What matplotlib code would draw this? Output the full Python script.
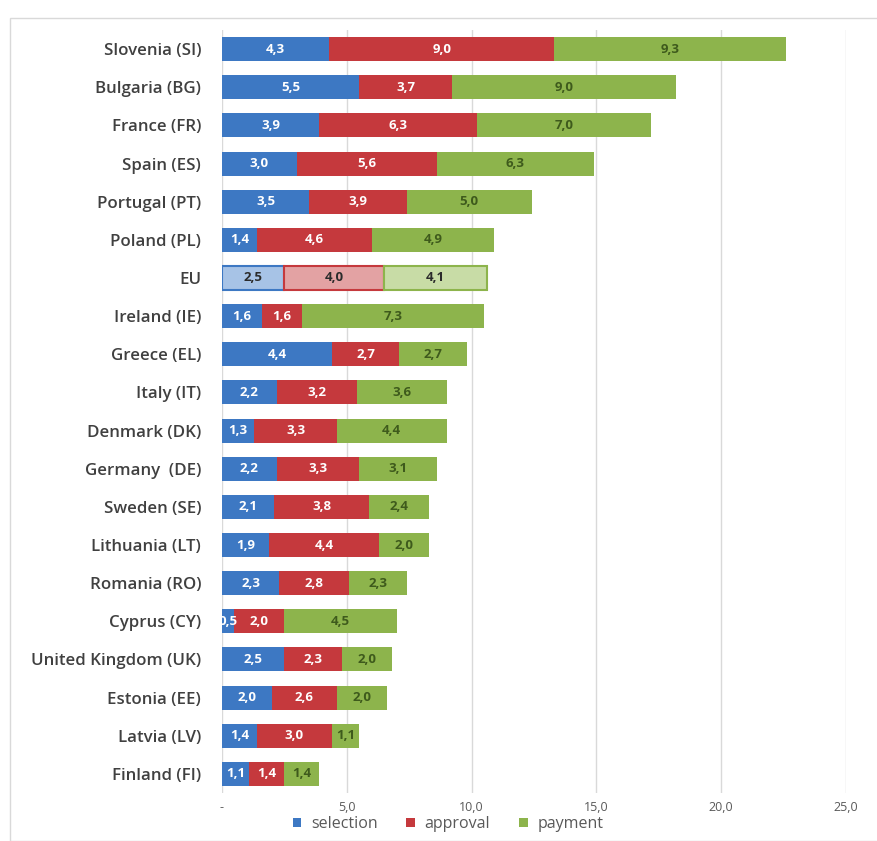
import matplotlib.pyplot as plt
from matplotlib.patches import Rectangle

countries = ['Slovenia (SI)', 'Bulgaria (BG)', 'France (FR)', 'Spain (ES)',
             'Portugal (PT)', 'Poland (PL)', 'EU', 'Ireland (IE)', 'Greece (EL)',
             'Italy (IT)', 'Denmark (DK)', 'Germany  (DE)', 'Sweden (SE)',
             'Lithuania (LT)', 'Romania (RO)', 'Cyprus (CY)',
             'United Kingdom (UK)', 'Estonia (EE)', 'Latvia (LV)', 'Finland (FI)']
selection = [4.3, 5.5, 3.9, 3.0, 3.5, 1.4, 2.5, 1.6, 4.4, 2.2,
             1.3, 2.2, 2.1, 1.9, 2.3, 0.5, 2.5, 2.0, 1.4, 1.1]
approval = [9.0, 3.7, 6.3, 5.6, 3.9, 4.6, 4.0, 1.6, 2.7, 3.2,
            3.3, 3.3, 3.8, 4.4, 2.8, 2.0, 2.3, 2.6, 3.0, 1.4]
payment = [9.3, 9.0, 7.0, 6.3, 5.0, 4.9, 4.1, 7.3, 2.7, 3.6,
           4.4, 3.1, 2.4, 2.0, 2.3, 4.5, 2.0, 2.0, 1.1, 1.4]
steps = ['selection', 'approval', 'payment']
xticks = [0, 5, 10, 15, 20, 25]

colors = ['#3d78c3', '#c5393d', '#8db44c']
eu_colors = ['#a7c3e6', '#e3a2a3', '#c8dca6']
text_colors = ['white', 'white', '#3e5a1c']

plt.rcParams['font.family'] = ['Open Sans', 'DejaVu Sans']

fig = plt.figure(figsize=(8.77, 8.41), dpi=100)
ax = fig.add_axes([0.2531, 0.0571, 0.7116, 0.9072])

# frame around the chart area
fig.patches.append(Rectangle((10 / 877, 0), 1, 1 - 18 / 841, transform=fig.transFigure,
                             fill=False, edgecolor='#d9d9d9', linewidth=1.0))

ypos = list(range(len(countries)))
left = [0.0] * len(countries)
handles = []
for k, vals in enumerate([selection, approval, payment]):
    for i, v in enumerate(vals):
        is_eu = countries[i] == 'EU'
        b = ax.barh(ypos[i], v, left=left[i], height=0.63,
                    color=eu_colors[k] if is_eu else colors[k],
                    edgecolor=colors[k] if is_eu else 'none',
                    linewidth=1.5 if is_eu else 0, zorder=3,
                    label=steps[k] if i == 0 else None)
        if i == 0:
            handles.append(b)
        ax.text(left[i] + v / 2, ypos[i], f'{v:.1f}'.replace('.', ','),
                ha='center', va='center', fontsize=9.5, fontweight='bold',
                color='#2b2b2b' if is_eu else text_colors[k], zorder=4)
        left[i] += v

ax.set_ylim(len(countries) - 0.5, -0.5)
ax.set_xlim(0, 25)
ax.set_yticks(ypos)
ax.set_yticklabels(countries, fontsize=12.2, fontweight='semibold', color='#404040')
ax.set_xticks(xticks)
ax.set_xticklabels(['-'] + [f'{t:.1f}'.replace('.', ',') for t in xticks[1:]],
                   fontsize=9, color='#595959')
ax.tick_params(axis='both', length=0)
ax.tick_params(axis='x', pad=6)
ax.tick_params(axis='y', pad=15)
ax.xaxis.grid(True, color='#d9d9d9', linewidth=1.0, zorder=0)
ax.set_axisbelow(True)
for s in ax.spines.values():
    s.set_visible(False)

fig.legend(handles=handles, labels=steps, loc='center',
           bbox_to_anchor=(448 / 877, 1 - 824 / 841), ncol=3, frameon=False,
           fontsize=11.5, handlelength=0.55, handleheight=0.55, columnspacing=1.8,
           handletextpad=0.6, labelcolor='#595959')

fig.savefig('out.png', dpi=100)
